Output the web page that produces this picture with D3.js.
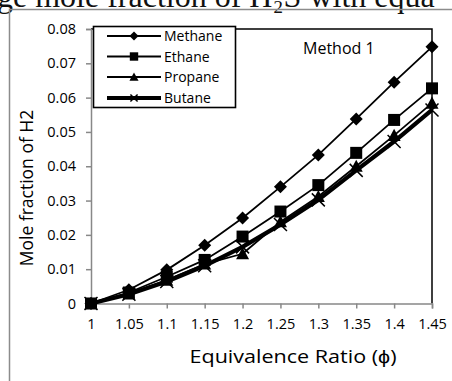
<!DOCTYPE html>
<html>
<head>
<meta charset="utf-8">
<script src="https://cdn.jsdelivr.net/npm/d3@7/dist/d3.min.js"></script>
<style>
  html, body { margin: 0; padding: 0; background: #fff; }
  svg { display: block; }
</style>
</head>
<body>
<svg id="chart" width="452" height="381"></svg>
<script>
// Equivalence ratio values along the x axis
const phi = [1, 1.05, 1.1, 1.15, 1.2, 1.25, 1.3, 1.35, 1.4, 1.45];
// Mole fraction of H2 for each fuel
const methane = [0, 0.0040, 0.0098, 0.0170, 0.0249, 0.0340, 0.0433, 0.0538, 0.0645, 0.0748];
const ethane  = [0, 0.0032, 0.0078, 0.0127, 0.0195, 0.0268, 0.0345, 0.0439, 0.0535, 0.0627];
const propane = [0, 0.0028, 0.0068, 0.0115, 0.0145, 0.0238, 0.0312, 0.0400, 0.0490, 0.0584];
const butane  = [0, 0.0027, 0.0064, 0.0110, 0.0165, 0.0230, 0.0302, 0.0388, 0.0472, 0.0564];
const seriesNames = ["Methane", "Ethane", "Propane", "Butane"];
const xTicks = [1, 1.05, 1.1, 1.15, 1.2, 1.25, 1.3, 1.35, 1.4, 1.45];
const yTicks = [0, 0.01, 0.02, 0.03, 0.04, 0.05, 0.06, 0.07, 0.08];

const series = [
  { name: seriesNames[0], values: methane, marker: "diamond", width: 1.8 },
  { name: seriesNames[1], values: ethane,  marker: "square",  width: 1.8 },
  { name: seriesNames[2], values: propane, marker: "triangle",width: 1.8 },
  { name: seriesNames[3], values: butane,  marker: "cross",   width: 4.2 }
];

const svg = d3.select("#chart");
const font = "'Open Sans', sans-serif";

// Page heading partly running off the top edge
svg.append("text")
  .attr("x", -3).attr("y", 7)
  .attr("font-family", "'Liberation Serif', serif")
  .attr("font-size", 32)
  .attr("fill", "#111")
  .text("ge mole fraction of H\u2082S with equa");

// Outer chart frame
svg.append("path")
  .attr("d", "M9.5,381 L9.5,9.5 L452,9.5")
  .attr("fill", "none").attr("stroke", "#8c8c8c").attr("stroke-width", 1.5);

const plotLeft = 91, plotRight = 432, plotTop = 29, plotBottom = 303.5;
const x = d3.scaleLinear().domain([1, 1.45]).range([plotLeft, plotRight]);
const y = d3.scaleLinear().domain([0, 0.08]).range([plotBottom, plotTop]);

// Plot-area border (top and right)
svg.append("path")
  .attr("d", `M${plotLeft},${plotTop} L${plotRight},${plotTop} L${plotRight},${plotBottom}`)
  .attr("fill", "none").attr("stroke", "#000").attr("stroke-width", 1.5);

// Axes
const xAxis = svg.append("g")
  .attr("transform", `translate(0,${plotBottom})`)
  .call(d3.axisBottom(x).tickValues(xTicks).tickSize(5).tickPadding(10)
    .tickFormat(d => String(+d.toFixed(2))));
const yAxis = svg.append("g")
  .attr("transform", `translate(${plotLeft},0)`)
  .call(d3.axisLeft(y).tickValues(yTicks).tickSize(5).tickPadding(10)
    .tickFormat(d => d === 0 ? "0" : d.toFixed(2)));
[xAxis, yAxis].forEach(g => {
  g.select(".domain").attr("stroke", "#888").attr("stroke-width", 1.5);
  g.selectAll(".tick line").attr("stroke", "#888").attr("stroke-width", 1.5);
  g.selectAll(".tick text").attr("font-family", font).attr("font-size", 14.5).attr("fill", "#000");
});

// Axis titles
svg.append("text")
  .attr("x", 293).attr("y", 363)
  .attr("text-anchor", "middle")
  .attr("font-family", font).attr("font-size", 19).attr("fill", "#000")
  .attr("textLength", 207).attr("lengthAdjust", "spacingAndGlyphs")
  .text("Equivalence Ratio (\u03d5)");
svg.append("text")
  .attr("transform", "translate(33,188) rotate(-90)")
  .attr("text-anchor", "middle")
  .attr("font-family", font).attr("font-size", 17.5).attr("fill", "#000")
  .text("Mole fraction of H2");

// Marker shapes
function drawMarker(g, type, cx, cy, scale) {
  const s = scale || 1;
  if (type === "diamond") {
    const r = 6.5 * s;
    g.append("path").attr("d", `M${cx},${cy - r} L${cx + r},${cy} L${cx},${cy + r} L${cx - r},${cy} Z`).attr("fill", "#000");
  } else if (type === "square") {
    const r = 6 * s;
    g.append("rect").attr("x", cx - r).attr("y", cy - r).attr("width", 2 * r).attr("height", 2 * r).attr("fill", "#000");
  } else if (type === "triangle") {
    const r = 6.5 * s;
    g.append("path").attr("d", `M${cx},${cy - r} L${cx + r},${cy + r * 0.85} L${cx - r},${cy + r * 0.85} Z`).attr("fill", "#000");
  } else {
    const r = 6.5 * s;
    g.append("path").attr("d", `M${cx - r},${cy - r} L${cx + r},${cy + r} M${cx - r},${cy + r} L${cx + r},${cy - r}`)
      .attr("stroke", "#000").attr("stroke-width", 1.5);
  }
}

const line = d3.line().x((d, i) => x(phi[i])).y(d => y(d));
const plot = svg.append("g");
series.forEach(s => {
  plot.append("path").datum(s.values)
    .attr("d", line).attr("fill", "none")
    .attr("stroke", "#000").attr("stroke-width", s.width)
    .attr("stroke-linejoin", "round");
});
series.forEach(s => {
  s.values.forEach((v, i) => drawMarker(plot, s.marker, x(phi[i]), y(v), 1));
});

// Method label
svg.append("text")
  .attr("x", 303).attr("y", 54)
  .attr("font-family", font).attr("font-size", 16).attr("fill", "#000")
  .text("Method 1");

// Legend
const legend = svg.append("g");
legend.append("rect")
  .attr("x", 93.5).attr("y", 26.5).attr("width", 142).attr("height", 81)
  .attr("fill", "#fff").attr("stroke", "#000").attr("stroke-width", 1.6);
const legendY = [36, 56.5, 77, 98];
series.forEach((s, i) => {
  const ly = legendY[i];
  legend.append("line")
    .attr("x1", 107).attr("x2", 161).attr("y1", ly).attr("y2", ly)
    .attr("stroke", "#000").attr("stroke-width", s.width);
  drawMarker(legend, s.marker, 134, ly, s.marker === "cross" ? 0.55 : 0.7);
  legend.append("text")
    .attr("x", 164).attr("y", ly + 5)
    .attr("font-family", font).attr("font-size", 14).attr("fill", "#000")
    .text(s.name);
});
</script>
</body>
</html>
